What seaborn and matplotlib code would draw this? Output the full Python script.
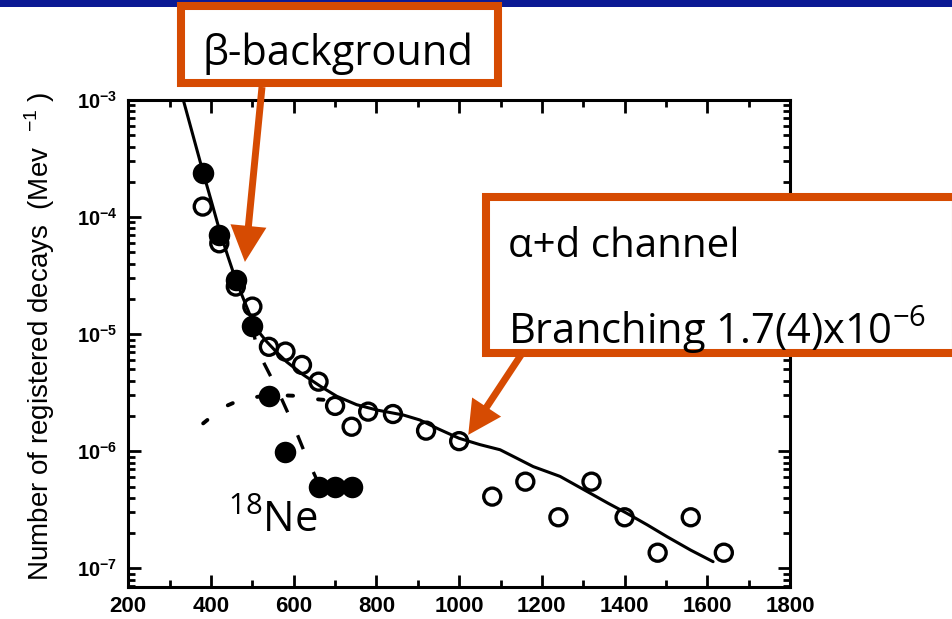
import numpy as np
import pandas as pd
import matplotlib
matplotlib.use("Agg")
import matplotlib.pyplot as plt
from matplotlib.patches import Rectangle
from matplotlib.ticker import FixedLocator, LogLocator, NullFormatter, MultipleLocator
import seaborn as sns

# ---- measured spectrum ----------------------------------------------------
# open circles: total registered decays (MeV bins)
open_energy = [380, 420, 460, 500, 540, 580, 620, 660, 700, 740, 780, 840,
               920, 1000, 1080, 1160, 1240, 1320, 1400, 1480, 1560, 1640]
open_counts = [1.23e-4, 5.97e-5, 2.55e-5, 1.72e-5, 7.8e-6, 7.1e-6, 5.46e-6,
               3.93e-6, 2.44e-6, 1.62e-6, 2.18e-6, 2.08e-6, 1.50e-6, 1.22e-6,
               4.1e-7, 5.5e-7, 2.73e-7, 5.5e-7, 2.73e-7, 1.36e-7, 2.73e-7,
               1.36e-7]

# filled circles: 18Ne beta background
ne_energy = [380, 420, 460, 500, 540, 580, 660, 700, 740]
ne_counts = [2.39e-4, 7.0e-5, 2.9e-5, 1.18e-5, 2.97e-6, 9.9e-7, 5.0e-7,
             5.0e-7, 5.0e-7]

# full fit (solid)
fit_energy = [333, 357, 381, 402, 422, 441, 460, 481, 501, 518, 535, 559,
              583, 623, 664, 704, 752, 801, 865, 905, 950, 1000, 1050, 1099,
              1140, 1179, 1244, 1316, 1360, 1405, 1455, 1502, 1560, 1614]
fit_counts = [1.0e-3, 4.9e-4, 2.4e-4, 1.32e-4, 7.4e-5, 4.6e-5, 2.9e-5,
              1.9e-5, 1.27e-5, 1.02e-5, 8.6e-6, 7.0e-6, 5.8e-6, 4.5e-6,
              3.6e-6, 2.95e-6, 2.5e-6, 2.25e-6, 2.04e-6, 1.85e-6, 1.55e-6,
              1.29e-6, 1.14e-6, 1.03e-6, 8.7e-7, 7.4e-7, 6.1e-7, 4.4e-7,
              3.6e-7, 2.96e-7, 2.35e-7, 1.87e-7, 1.43e-7, 1.14e-7]

# beta-background component (dashed)
beta_energy = [499, 512, 560, 601, 631, 656, 663]
beta_counts = [1.2e-5, 7.3e-6, 3.4e-6, 1.62e-6, 8.9e-7, 5.7e-7, 5.06e-7]

# alpha+d component (dotted)
ad_energy = [381, 428, 474, 543, 611, 656, 700]
ad_counts = [1.73e-6, 2.36e-6, 2.78e-6, 3.03e-6, 2.97e-6, 2.78e-6, 2.7e-6]

x_ticks = [200, 400, 600, 800, 1000, 1200, 1400, 1600, 1800]
y_ticks = [1e-7, 1e-6, 1e-5, 1e-4, 1e-3]
y_tick_labels = [r"$\mathbf{10^{-7}}$", r"$\mathbf{10^{-6}}$",
                 r"$\mathbf{10^{-5}}$", r"$\mathbf{10^{-4}}$",
                 r"$\mathbf{10^{-3}}$"]

ORANGE = "#D64B02"
NAVY = "#0B1A94"
NOTE_FONT = "Open Sans"

sns.set_theme(style="ticks")
plt.rcParams.update({
    "font.family": ["Liberation Sans", "DejaVu Sans"],
    "mathtext.fontset": "custom",
    "mathtext.rm": NOTE_FONT,
    "mathtext.sf": "Liberation Sans",
    "mathtext.bf": "Liberation Sans:bold",
    "axes.linewidth": 2.2,
    "text.color": "black",
    "axes.labelcolor": "black",
    "xtick.color": "black",
    "ytick.color": "black",
    "axes.edgecolor": "black",
})

W, H = 953, 619
fig = plt.figure(figsize=(W / 100, H / 100), dpi=100)
fig.patch.set_facecolor("white")


def fx(px):
    return px / W


def fy(py):
    return 1 - py / H


ax = fig.add_axes([fx(128.3), fy(586.7), fx(790 - 128.3), (586.7 - 100) / H])
ax.set_facecolor("white")

open_df = pd.DataFrame({"E": open_energy, "N": open_counts})
ne_df = pd.DataFrame({"E": ne_energy, "N": ne_counts})
fit_df = pd.DataFrame({"E": fit_energy, "N": fit_counts})
beta_df = pd.DataFrame({"E": beta_energy, "N": beta_counts})
ad_df = pd.DataFrame({"E": ad_energy, "N": ad_counts})

sns.scatterplot(data=open_df, x="E", y="N", ax=ax, marker="o", s=150,
                facecolor="none", edgecolor="black", linewidth=2.4, zorder=2)
sns.scatterplot(data=ne_df, x="E", y="N", ax=ax, marker="o", s=240,
                color="black", linewidth=0, zorder=3)
sns.lineplot(data=fit_df, x="E", y="N", ax=ax, color="black", lw=2.2,
             sort=False, zorder=4)
sns.lineplot(data=beta_df, x="E", y="N", ax=ax, color="black", lw=2.4,
             sort=False, zorder=4, linestyle=(0, (4.5, 7.5)))
sns.lineplot(data=ad_df, x="E", y="N", ax=ax, color="black", lw=2.8,
             sort=False, zorder=4, linestyle=(0, (1.4, 6.5)),
             dash_capstyle="round")

ax.set_yscale("log")
ax.set_xlim(200, 1800)
ax.set_ylim(6.97e-8, 1e-3)
ax.set_xlabel("")
ax.set_ylabel("")

ax.xaxis.set_major_locator(FixedLocator(x_ticks))
ax.xaxis.set_minor_locator(MultipleLocator(100))
ax.set_xticklabels([str(v) for v in x_ticks], fontweight="bold", fontsize=16)
ax.yaxis.set_major_locator(FixedLocator(y_ticks))
ax.yaxis.set_minor_locator(LogLocator(base=10, subs=np.arange(2, 10)))
ax.yaxis.set_minor_formatter(NullFormatter())
ax.set_yticklabels(y_tick_labels, fontsize=14.5)

ax.tick_params(which="both", direction="in", top=True, right=True,
               color="black", width=2.0)
ax.tick_params(which="major", length=9)
ax.tick_params(which="minor", length=5)
ax.tick_params(axis="x", which="major", pad=7)
ax.tick_params(axis="y", which="major", pad=8)
for sp in ax.spines.values():
    sp.set_visible(True)
    sp.set_color("black")
    sp.set_linewidth(2.2)

fig.text(fx(40), fy(336), r"Number of registered decays  (Mev  $^{\mathsf{-1}}$ )",
         rotation=90, ha="center", va="center", fontsize=20, color="black")

# slide header band
fig.add_artist(Rectangle((0, fy(7)), 1, 7 / H, transform=fig.transFigure,
                         facecolor=NAVY, edgecolor="none", zorder=0))

# beta-background callout
fig.add_artist(Rectangle((fx(181), fy(83)), fx(317), 77 / H,
                         transform=fig.transFigure, facecolor="white",
                         edgecolor=ORANGE, linewidth=5.8, zorder=5))
fig.text(fx(338), fy(65), "β-background", ha="center", va="baseline",
         fontsize=30, family=[NOTE_FONT, "DejaVu Sans"], zorder=6)
ax.annotate("", xy=(482, 4.14e-5), xycoords="data",
            xytext=(fx(262), fy(87)), textcoords="figure fraction",
            arrowprops=dict(arrowstyle="simple,head_length=2.6,head_width=2.6,tail_width=0.5",
                            mutation_scale=10, color=ORANGE, shrinkA=0,
                            shrinkB=0, lw=0),
            annotation_clip=False, zorder=6)

# alpha+d callout
fig.add_artist(Rectangle((fx(486), fy(353)), fx(470), 156 / H,
                         transform=fig.transFigure, facecolor="white",
                         edgecolor=ORANGE, linewidth=5.8, zorder=5))
fig.text(fx(508), fy(257), "α+d channel", ha="left", va="baseline",
         fontsize=29, family=[NOTE_FONT, "DejaVu Sans"], zorder=6)
fig.text(fx(508), fy(344), r"Branching 1.7(4)x10$^{-6}$", ha="left",
         va="baseline", fontsize=30, family=[NOTE_FONT, "DejaVu Sans"],
         zorder=6)
ax.annotate("", xy=(1022, 1.38e-6), xycoords="data",
            xytext=(fx(521), fy(355)), textcoords="figure fraction",
            arrowprops=dict(arrowstyle="simple,head_length=2.4,head_width=2.5,tail_width=0.5",
                            mutation_scale=10, color=ORANGE, shrinkA=0,
                            shrinkB=0, lw=0),
            annotation_clip=False, zorder=6)

# isotope label
fig.text(fx(228), fy(532), r"$^{18}$Ne", fontsize=30,
         family=[NOTE_FONT, "DejaVu Sans"], ha="left", va="baseline")

fig.savefig("out.png", dpi=100, facecolor="white")
